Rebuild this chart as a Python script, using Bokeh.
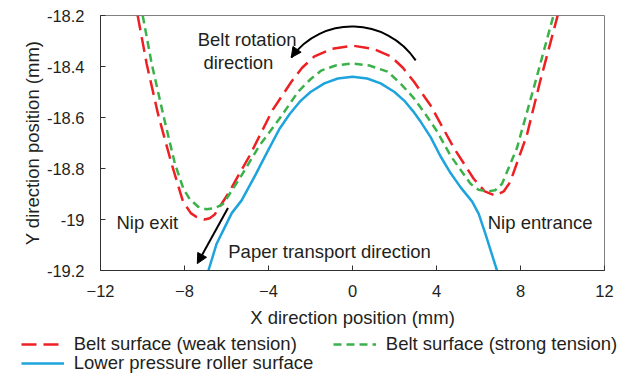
from bokeh.plotting import figure
from bokeh.layouts import column
from bokeh.models import (Range1d, FixedTicker, Label, Arrow, NormalHead, Legend, LegendItem)
from bokeh.embed import file_html
from bokeh.resources import INLINE

# ---- data ----
weak_x = [-10.23, -9.80, -9.25, -8.62, -8.07, -7.70, -7.43, -7.04, -6.80, -6.56, -5.93, -4.90, -3.80,
          -2.91, -2.40, -1.81, -1.00, 0.0, 1.00, 1.82, 2.40, 2.93, 3.72, 4.83, 5.77, 6.30, 6.80, 7.20, 7.51, 8.30, 8.93, 9.77]
weak_y = [-18.20, -18.39, -18.59, -18.78, -18.93, -18.975, -18.99, -19.00, -18.995, -18.98, -18.90, -18.75, -18.57,
          -18.46, -18.405, -18.36, -18.331, -18.318, -18.331, -18.36, -18.405, -18.46, -18.553, -18.72, -18.84, -18.89, -18.906, -18.89, -18.853, -18.67, -18.46, -18.20]

strong_x = [-9.99, -9.56, -9.01, -8.46, -8.05, -7.75, -7.35, -6.96, -6.55, -6.17, -5.38, -4.43, -3.48,
            -2.60, -2.00, -1.49, -0.80, 0.0, 0.80, 1.67, 2.30, 2.93, 3.50, 4.04, 4.67, 5.62, 6.00, 6.41, 6.80, 7.12, 7.83, 8.62, 9.57]
strong_y = [-18.20, -18.39, -18.59, -18.78, -18.88, -18.92, -18.95, -18.96, -18.955, -18.94, -18.84, -18.71, -18.605,
            -18.50, -18.45, -18.416, -18.396, -18.388, -18.396, -18.42, -18.468, -18.525, -18.59, -18.656, -18.75, -18.86, -18.883, -18.89, -18.885, -18.86, -18.72, -18.487, -18.20]

roller_x = [-6.86, -6.47, -6.08, -5.75, -5.28, -4.59, -4.02, -3.48, -3.00, -2.50, -2.00, -1.34, -0.70, 0.0, 0.70, 1.34,
            2.00, 2.50, 2.93, 3.25, 3.72, 4.19, 4.67, 5.14, 5.70, 6.01, 6.33, 6.88]
roller_y = [-19.20, -19.095, -19.03, -18.975, -18.925, -18.82, -18.729, -18.645, -18.587, -18.537, -18.50, -18.466, -18.447, -18.44, -18.447, -18.466,
            -18.50, -18.537, -18.58, -18.617, -18.677, -18.752, -18.818, -18.873, -18.93, -18.978, -19.056, -19.20]

x_ticks = [-12, -8, -4, 0, 4, 8, 12]
y_ticks = [-19.2, -19.0, -18.8, -18.6, -18.4, -18.2]
y_tick_labels = ["-19.2", "-19", "-18.8", "-18.6", "-18.4", "-18.2"]

series_names = ["Belt surface (weak tension)", "Belt surface (strong tension)", "Lower pressure roller surface"]

RED = "#ED2024"
GREEN = "#3BB14A"
BLUE = "#1EA4DD"
TXT = "#231F20"
FONT = "Liberation Sans"
STYLES = [dict(line_color=RED, line_width=2.5, line_dash="15 7"),
          dict(line_color=GREEN, line_width=2.5, line_dash="8 5"),
          dict(line_color=BLUE, line_width=2.5)]

p = figure(width=622, height=330, output_backend="svg", toolbar_location=None,
           x_range=Range1d(-12, 12), y_range=Range1d(-19.2, -18.2),
           min_border_left=100, min_border_right=18, min_border_top=15, min_border_bottom=60)
p.frame_align = False
p.background_fill_color = None
p.border_fill_color = "white"
p.outline_line_color = "#808080"
p.outline_line_width = 1
p.xgrid.visible = False
p.ygrid.visible = False

for ax in (p.xaxis[0], p.yaxis[0]):
    ax.major_tick_in = 5
    ax.major_tick_out = 0
    ax.minor_tick_line_color = None
    ax.major_label_text_font = FONT
    ax.major_label_text_font_size = "16.5px"
    ax.major_label_text_color = TXT
    ax.axis_label_text_font = FONT
    ax.axis_label_text_font_size = "18.5px"
    ax.axis_label_text_font_style = "normal"
    ax.axis_label_text_color = TXT
    ax.axis_line_color = "#303030"
    ax.major_tick_line_color = "#303030"

p.xaxis.ticker = FixedTicker(ticks=x_ticks)
p.yaxis.ticker = FixedTicker(ticks=y_ticks)
p.yaxis.major_label_overrides = dict(zip(y_ticks, y_tick_labels))
p.xaxis.axis_label = "X direction position (mm)"
p.yaxis.axis_label = "Y direction position (mm)"
p.xaxis.major_label_standoff = 14
p.xaxis.axis_label_standoff = 7
p.yaxis.major_label_standoff = 16
p.yaxis.axis_label_standoff = 1

p.line(weak_x, weak_y, **STYLES[0])
p.line(strong_x, strong_y, **STYLES[1])
p.line(roller_x, roller_y, **STYLES[2])

# belt rotation arc arrow
p.bezier(x0=[3.01], y0=[-18.376], x1=[-2.915], y1=[-18.365],
         cx0=[1.62], cy0=[-18.205], cx1=[-1.455], cy1=[-18.197],
         line_color="black", line_width=2)
p.add_layout(Arrow(end=NormalHead(size=10, fill_color="black", line_color="black"),
                   x_start=-2.777, y_start=-18.3486, x_end=-2.915, y_end=-18.3647,
                   line_color="black", line_width=2))
# paper transport arrow
p.add_layout(Arrow(end=NormalHead(size=10, fill_color="black", line_color="black"),
                   x_start=-5.93, y_start=-18.955, x_end=-7.39, y_end=-19.173,
                   line_color="black", line_width=2))

def add_label(x, y, t):
    p.add_layout(Label(x=x, y=y, text=t, text_font=FONT, text_font_size="18.5px",
                       text_color=TXT, text_baseline="alphabetic", text_align="left"))

add_label(-7.37, -18.296, "Belt rotation")
add_label(-7.10, -18.386, "direction")
add_label(-11.24, -19.013, "Nip exit")
add_label(-5.915, -19.125, "Paper transport direction")
add_label(6.44, -19.011, "Nip entrance")

# ---- legend strip below the chart (same series, ranges chosen so only the legend shows) ----
lf = figure(width=622, height=44, output_backend="svg", toolbar_location=None,
            x_range=Range1d(100, 101), y_range=Range1d(100, 101),
            x_axis_location=None, y_axis_location=None,
            min_border_left=0, min_border_right=0, min_border_top=0, min_border_bottom=0)
lf.frame_align = False
lf.outline_line_color = None
lf.xgrid.visible = False
lf.ygrid.visible = False
lr = [lf.line(weak_x, weak_y, **STYLES[0]),
      lf.line(strong_x, strong_y, **STYLES[1]),
      lf.line(roller_x, roller_y, **STYLES[2])]

def make_legend(items, loc):
    lg = Legend(items=items, location=loc, orientation="horizontal",
                label_text_font=FONT, label_text_font_size="18.5px", label_text_color=TXT,
                glyph_width=43, glyph_height=20, label_standoff=10, spacing=36,
                padding=0, margin=0, border_line_color=None, background_fill_alpha=0)
    lf.add_layout(lg)
    return lg

make_legend([LegendItem(label=series_names[0], renderers=[lr[0]]),
             LegendItem(label=series_names[1], renderers=[lr[1]])], (20.7, 19.5))
make_legend([LegendItem(label=series_names[2], renderers=[lr[2]])], (20.7, 0.5))

open("out.html", "w").write(file_html(column(p, lf, spacing=0), INLINE))
